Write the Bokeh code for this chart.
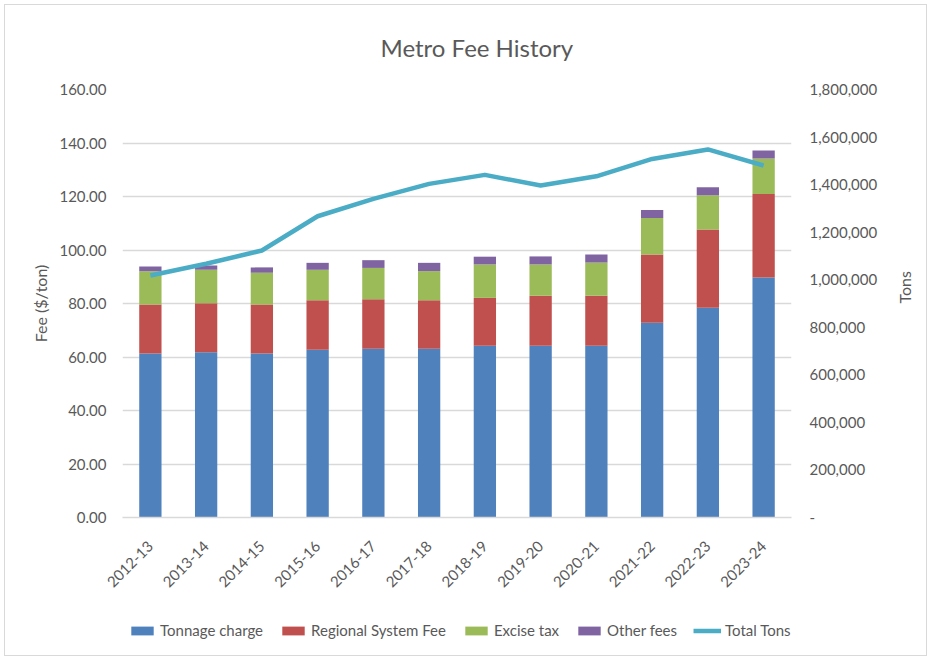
import math
from bokeh.plotting import figure
from bokeh.layouts import column
from bokeh.models import (Range1d, LinearAxis, Legend, LegendItem,
                          NumeralTickFormatter, CustomJSTickFormatter, FixedTicker)
from bokeh.embed import file_html
from bokeh.resources import INLINE

years = ["2012-13", "2013-14", "2014-15", "2015-16", "2016-17", "2017-18",
         "2018-19", "2019-20", "2020-21", "2021-22", "2022-23", "2023-24"]
tonnage_charge = [61.3, 61.8, 61.3, 62.7, 63.1, 63.1, 64.2, 64.2, 64.2, 72.8, 78.4, 89.7]
regional_system_fee = [18.3, 18.3, 18.3, 18.5, 18.5, 18.1, 17.9, 18.7, 18.7, 25.5, 29.3, 31.2]
excise_tax = [12.5, 12.5, 11.9, 11.4, 11.7, 10.9, 12.5, 11.7, 12.4, 13.7, 12.8, 13.3]
other_fees = [1.7, 1.6, 2.0, 2.6, 2.9, 3.1, 2.9, 3.0, 3.0, 3.0, 3.0, 3.0]
total_tons = [1018000, 1067000, 1123000, 1267000, 1340000, 1403000,
              1441000, 1396000, 1435000, 1508000, 1548000, 1480000]

series = ["Tonnage charge", "Regional System Fee", "Excise tax", "Other fees"]
line_series = "Total Tons"
colors = ["#4F81BD", "#C0504D", "#9BBB59", "#8064A2"]
line_color = "#4BACC6"
text_color = "#595959"
font = "Lato"

data = {"years": years, "Tonnage charge": tonnage_charge,
        "Regional System Fee": regional_system_fee,
        "Excise tax": excise_tax, "Other fees": other_fees,
        "tons": total_tons}

W = 921
p = figure(x_range=years, y_range=Range1d(0, 160),
           width=W, height=597,
           min_border_left=117, min_border_right=125,
           min_border_top=84, min_border_bottom=85,
           output_backend="svg", toolbar_location=None)
p.extra_y_ranges = {"tons": Range1d(0, 1800000)}

bars = p.vbar_stack(series, x="years", width=0.4, color=colors,
                    line_color=None, source=data)
ln = p.line(x="years", y="tons", y_range_name="tons", source=data,
            line_color=line_color, line_width=4.5, line_join="round")

# title
p.title.text = "Metro Fee History"
p.title.align = "left"
p.title.offset = 258
p.title.vertical_align = "middle"
p.title.standoff = 53
p.title.text_font = font
p.title.text_font_size = "24px"
p.title.text_font_style = "normal"
p.title.text_color = text_color

# left axis
ya = p.yaxis[0]
ya.ticker = FixedTicker(ticks=list(range(0, 161, 20)))
ya.formatter = NumeralTickFormatter(format="0.00")
ya.axis_line_color = None
ya.major_tick_line_color = None
ya.minor_tick_line_color = None
ya.major_label_text_font = font
ya.major_label_text_font_size = "15px"
ya.major_label_text_color = text_color
ya.major_label_standoff = 10
ya.axis_label = "Fee ($/ton)"
ya.axis_label_text_font = font
ya.axis_label_text_font_size = "16px"
ya.axis_label_text_font_style = "normal"
ya.axis_label_text_color = text_color
ya.axis_label_standoff = 6

# right axis
ra = LinearAxis(y_range_name="tons",
                ticker=FixedTicker(ticks=list(range(0, 1800001, 200000))),
                formatter=CustomJSTickFormatter(code="return tick == 0 ? '-' : Math.round(tick).toLocaleString('en-US');"))
ra.axis_line_color = None
ra.major_tick_line_color = None
ra.minor_tick_line_color = None
ra.major_label_text_font = font
ra.major_label_text_font_size = "15px"
ra.major_label_text_color = text_color
ra.major_label_standoff = 12
ra.axis_label = "Tons"
ra.axis_label_text_font = font
ra.axis_label_text_font_size = "16px"
ra.axis_label_text_font_style = "normal"
ra.axis_label_text_color = text_color
ra.axis_label_standoff = 24
if "axis_label_orientation" in ra.properties():
    ra.axis_label_orientation = math.pi / 2
p.add_layout(ra, "right")

# x axis
xa = p.xaxis[0]
xa.axis_line_color = "#d9d9d9"
xa.axis_line_width = 1.5
xa.major_tick_line_color = None
xa.minor_tick_line_color = None
xa.major_label_orientation = math.pi / 4
xa.major_label_text_font = font
xa.major_label_text_font_size = "15px"
xa.major_label_text_color = text_color
xa.major_label_standoff = 20

p.xgrid.grid_line_color = None
p.ygrid.grid_line_color = "#d9d9d9"
p.ygrid.grid_line_width = 1.5
p.ygrid.ticker = FixedTicker(ticks=list(range(20, 161, 20)))
p.outline_line_color = None

# legend strip below the chart (its frame is aligned with the chart's frame)
lg = figure(width=W, height=53, x_range=Range1d(0, 1), y_range=Range1d(0, 1),
            x_axis_type=None, y_axis_type=None, min_border=0,
            output_backend="svg", toolbar_location=None)
lg.grid.visible = False
lg.outline_line_color = None
swatches = [lg.vbar(x=[-5], top=[-5], width=0.5, color=c, line_color=None) for c in colors]
line_swatch = lg.line(x=[-5, -4], y=[-5, -5], line_color=line_color, line_width=4.5)
items = [LegendItem(label=s, renderers=[r]) for s, r in zip(series, swatches)]
items.append(LegendItem(label=line_series, renderers=[line_swatch]))
legend = Legend(items=items, orientation="horizontal", location=(6, 15),
                glyph_width=28, glyph_height=11, label_standoff=4, spacing=16,
                padding=0, margin=0, border_line_color=None,
                background_fill_alpha=0, label_text_font=font,
                label_text_font_size="15px", label_text_color=text_color,
                label_height=20)
lg.add_layout(legend, "center")

layout = column(p, lg, spacing=0)
layout.styles = {"border": "1px solid #d9d9d9", "margin-left": "4px", "margin-top": "4px"}

open("out.html", "w").write(file_html(layout, INLINE))
